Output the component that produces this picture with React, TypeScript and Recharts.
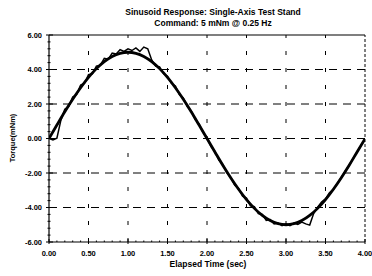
import { Line, LineChart, ReferenceLine, XAxis, YAxis } from 'recharts'

// command: 5 mNm sine @ 0.25 Hz, read every 0.1 s
const commandTime = [
  0, 0.1, 0.2, 0.3, 0.4, 0.5, 0.6, 0.7, 0.8, 0.9, 1.0, 1.1, 1.2, 1.3, 1.4, 1.5, 1.6, 1.7, 1.8, 1.9, 2.0,
  2.1, 2.2, 2.3, 2.4, 2.5, 2.6, 2.7, 2.8, 2.9, 3.0, 3.1, 3.2, 3.3, 3.4, 3.5, 3.6, 3.7, 3.8, 3.9, 4.0,
]
const commandTorque = [
  0, 0.78, 1.55, 2.27, 2.94, 3.54, 4.05, 4.46, 4.76, 4.94, 5.0, 4.94, 4.76, 4.46, 4.05, 3.54, 2.94, 2.27, 1.55, 0.78, 0,
  -0.78, -1.55, -2.27, -2.94, -3.54, -4.05, -4.46, -4.76, -4.94, -5.0, -4.94, -4.76, -4.46, -4.05, -3.54, -2.94, -2.27,
  -1.55, -0.78, -0.02,
]

// measured response (noisy), read every 0.05 s
const responseTime = [
  0, 0.05, 0.1, 0.15, 0.2, 0.25, 0.3, 0.35, 0.4, 0.45, 0.5, 0.55, 0.6, 0.65, 0.7, 0.75, 0.8, 0.85, 0.9, 0.95, 1.0,
  1.05, 1.1, 1.15, 1.2, 1.25, 1.3, 1.35, 1.4, 1.45, 1.5, 1.55, 1.6, 1.65, 1.7, 1.75, 1.8, 1.85, 1.9, 1.95, 2.0,
  2.05, 2.1, 2.15, 2.2, 2.25, 2.3, 2.35, 2.4, 2.45, 2.5, 2.55, 2.6, 2.65, 2.7, 2.75, 2.8, 2.85, 2.9, 2.95, 3.0,
  3.05, 3.1, 3.15, 3.2, 3.25, 3.3, 3.35, 3.4, 3.45, 3.5, 3.55, 3.6, 3.65, 3.7, 3.75, 3.8, 3.85, 3.9, 3.95, 4.0,
]
const responseTorque = [
  0.0, -0.08, 0.02, 1.05, 1.7, 1.85, 2.4, 2.55, 3.1, 3.2, 3.7, 3.75, 4.2, 4.25, 4.65, 4.6, 4.95, 4.9, 5.15, 5.05, 5.2,
  5.1, 5.25, 5.05, 5.3, 5.2, 4.55, 4.2, 4.15, 3.75, 3.6, 3.2, 3.05, 2.55, 2.35, 1.85, 1.6, 1.1, 0.85, 0.35, 0.05,
  -0.45, -0.75, -1.25, -1.5, -1.98, -2.25, -2.7, -2.9, -3.35, -3.45, -3.9, -3.95, -4.35, -4.4, -4.75, -4.7, -4.95,
  -4.9, -5.05, -4.95, -5.05, -4.9, -4.98, -4.85, -4.95, -5.02, -4.35, -3.98, -3.68, -3.5, -3.15, -2.95, -2.6, -2.25,
  -1.9, -1.55, -1.15, -0.78, -0.4, -0.05,
]

const xMajor = [0, 0.5, 1, 1.5, 2, 2.5, 3, 3.5, 4]
const yMajor = [-6, -4, -2, 0, 2, 4, 6]

const commandData = commandTime.map((t, i) => ({ t, v: commandTorque[i] }))
const responseData = responseTime.map((t, i) => ({ t, v: responseTorque[i] }))

const xTicks: number[] = []
for (let i = 0; i <= 40; i++) xTicks.push(i / 10)
const yTicks: number[] = []
for (let i = 0; i <= 30; i++) yTicks.push(Math.round((-6 + i * 0.4) * 10) / 10)

const font = '"Liberation Sans", Arial, sans-serif'

function isMajor(v: number, list: number[]) {
  return list.some((m) => Math.abs(m - v) < 1e-6)
}

function XTick(props: any) {
  const { x, y, payload } = props
  const major = isMajor(payload.value, xMajor)
  return (
    <g>
      <line x1={x} x2={x} y1={y - (major ? 3 : 1.5)} y2={y + (major ? 2 : 0)} stroke="#000" />
      {major && (
        <text x={x} y={y + 14} textAnchor="middle" fontSize={7.5} fontWeight="bold" fontFamily={font} fill="#000">
          {payload.value.toFixed(2)}
        </text>
      )}
    </g>
  )
}

function YTick(props: any) {
  const { x, y, payload } = props
  const major = isMajor(payload.value, yMajor)
  return (
    <g>
      <line x1={x - (major ? 3 : 1.5)} x2={x + (major ? 4 : 1.5)} y1={y} y2={y} stroke="#000" />
      {major && (
        <text x={x - 7} y={y + 2.5} textAnchor="end" fontSize={7.5} fontWeight="bold" fontFamily={font} fill="#000">
          {payload.value.toFixed(2)}
        </text>
      )}
    </g>
  )
}

export default function App() {
  return (
    <div style={{ position: 'absolute', left: 0, top: 0, width: 372, height: 276, background: '#fff', fontFamily: font }}>
      <div style={{ position: 'absolute', left: 0, width: 426, top: 7, textAlign: 'center', fontSize: 8.5, fontWeight: 'bold', lineHeight: '10.5px' }}>
        Sinusoid Response: Single-Axis Test Stand
        <br />
        Command: 5 mNm @ 0.25 Hz
      </div>
      <LineChart width={372} height={276} margin={{ top: 35, right: 7, bottom: 0, left: 0 }}>
        <XAxis
          type="number"
          dataKey="t"
          domain={[0, 4]}
          ticks={xTicks}
          interval={0}
          tick={<XTick />}
          tickLine={false}
          tickSize={0}
          tickMargin={0}
          axisLine={{ stroke: '#000', strokeWidth: 1.2 }}
          height={34}
          allowDataOverflow
        />
        <YAxis
          type="number"
          domain={[-6, 6]}
          ticks={yTicks}
          interval={0}
          tick={<YTick />}
          tickLine={false}
          tickSize={0}
          tickMargin={0}
          axisLine={{ stroke: '#000', strokeWidth: 1.2 }}
          width={49}
          allowDataOverflow
        />
        {yMajor.slice(1, -1).map((v) => (
          <ReferenceLine key={'h' + v} y={v} stroke="#000" strokeDasharray="8 6" />
        ))}
        {xMajor.slice(1, -1).map((v) => (
          <ReferenceLine key={'v' + v} x={v} stroke="#000" strokeDasharray="4 13" />
        ))}
        <ReferenceLine y={6} stroke="#000" strokeWidth={1.2} />
        <ReferenceLine x={4} stroke="#000" strokeDasharray="3 2" />
        <Line data={commandData} dataKey="v" type="monotone" stroke="#000" strokeWidth={2.8} dot={false} isAnimationActive={false} />
        <Line data={responseData} dataKey="v" type="linear" stroke="#000" strokeWidth={1.5} dot={false} isAnimationActive={false} />
      </LineChart>
      <div style={{ position: 'absolute', left: 0, width: 416, top: 259, textAlign: 'center', fontSize: 8.5, fontWeight: 'bold' }}>
        Elapsed Time (sec)
      </div>
      <div
        style={{
          position: 'absolute',
          left: 12,
          top: 138,
          transform: 'translate(-50%, -50%) rotate(-90deg)',
          whiteSpace: 'nowrap',
          fontSize: 7.5,
          fontWeight: 'bold',
        }}
      >
        Torque(mNm)
      </div>
    </div>
  )
}
